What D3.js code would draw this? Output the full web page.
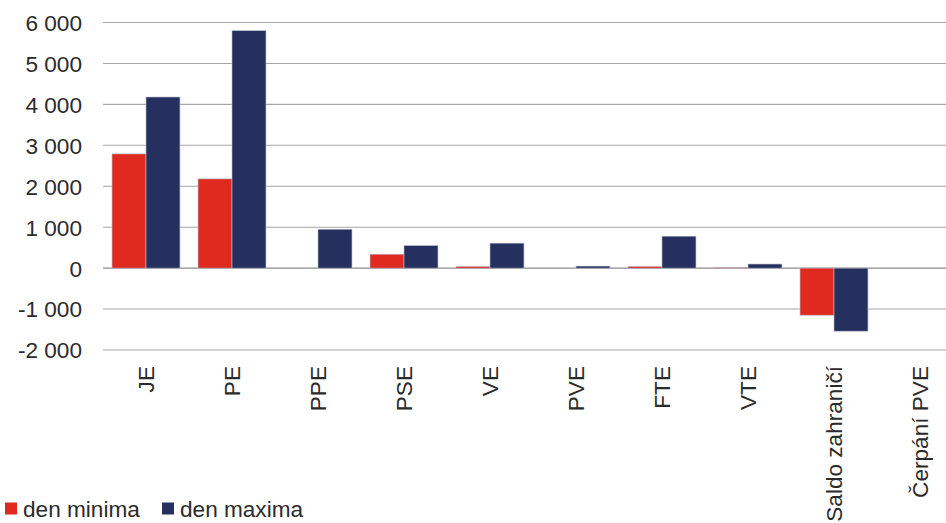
<!DOCTYPE html>
<html>
<head>
<meta charset="utf-8">
<script src="https://cdn.jsdelivr.net/npm/d3@7"></script>
<style>
  html, body { margin: 0; padding: 0; background: #fff; }
  svg { display: block; }
  text { font-family: "Liberation Sans", Arial, Helvetica, sans-serif; fill: #2b2b2b; }
</style>
</head>
<body>
<svg id="chart" width="946" height="523"></svg>
<script>
// Source categories and daily values (MW)
const categories = ["JE", "PE", "PPE", "PSE", "VE", "PVE", "FTE", "VTE", "Saldo zahraničí", "Čerpání PVE"];
const seriesNames = ["den minima", "den maxima"];
const denMinima = [2790, 2180, 0, 340, 40, 0, 40, 20, -1150, 0];
const denMaxima = [4180, 5800, 950, 550, 610, 50, 780, 100, -1540, 0];
const yTicks = [-2000, -1000, 0, 1000, 2000, 3000, 4000, 5000, 6000];
const colors = ["#e02a20", "#25305f"];
const fontSize = 22.6;

const svg = d3.select("#chart");
const plot = { left: 103, right: 963, top: 22.5, bottom: 350 };

const y = d3.scaleLinear().domain([-2000, 6000]).range([plot.bottom, plot.top]);
const x = d3.scaleBand().domain(categories).range([plot.left, plot.right])
  .paddingInner(0.21).paddingOuter(0.105);
const xs = d3.scaleBand().domain(seriesNames).range([0, x.bandwidth()]);

const fmt = v => d3.format(",")(v).replace(/,/g, " ").replace("−", "-");

// gridlines
svg.append("g").selectAll("line").data(yTicks).join("line")
  .attr("x1", plot.left).attr("x2", 946)
  .attr("y1", d => y(d)).attr("y2", d => y(d))
  .attr("stroke", d => d === 0 ? "#8c8c8c" : "#a6a6a6")
  .attr("stroke-width", d => d === 0 ? 1.3 : 1.1);

// y axis labels
const yAxis = d3.axisLeft(y).tickValues(yTicks).tickSize(0).tickPadding(0).tickFormat(fmt);
const gy = svg.append("g").attr("transform", "translate(82,0)").call(yAxis);
gy.select(".domain").remove();
gy.selectAll("text").attr("font-size", fontSize).attr("font-family", null).attr("fill", "#2b2b2b").attr("dy", "0.35em");

// bars
const rows = categories.map((c, i) => ({ cat: c, values: [denMinima[i], denMaxima[i]] }));
const groups = svg.append("g").selectAll("g").data(rows).join("g")
  .attr("transform", d => `translate(${x(d.cat)},0)`);
groups.selectAll("rect")
  .data(d => d.values.map((v, j) => ({ v, j })).filter(e => e.v !== 0))
  .join("rect")
  .attr("x", d => xs(seriesNames[d.j]))
  .attr("width", xs.bandwidth())
  .attr("y", d => Math.min(y(d.v), y(0)))
  .attr("height", d => Math.abs(y(d.v) - y(0)))
  .attr("fill", d => colors[d.j])
  .attr("stroke", "#b9bccb")
  .attr("stroke-width", 0.6);

// category labels (rotated)
const xAxis = d3.axisBottom(x).tickSize(0).tickPadding(0);
const gx = svg.append("g").attr("transform", "translate(0,366)").call(xAxis);
gx.select(".domain").remove();
gx.selectAll("text")
  .attr("font-size", fontSize).attr("font-family", null).attr("fill", "#2b2b2b")
  .attr("text-anchor", "end")
  .attr("transform", "rotate(-90)")
  .attr("x", 0).attr("y", 0).attr("dy", "0.36em");

// legend
const legend = svg.append("g");
const lx = [5, 162];
seriesNames.forEach((name, i) => {
  legend.append("rect").attr("x", lx[i]).attr("y", 502.5).attr("width", 12).attr("height", 12)
    .attr("fill", colors[i]);
  legend.append("text").attr("x", lx[i] + 18).attr("y", 516.5)
    .attr("font-size", fontSize).text(name);
});
</script>
</body>
</html>
